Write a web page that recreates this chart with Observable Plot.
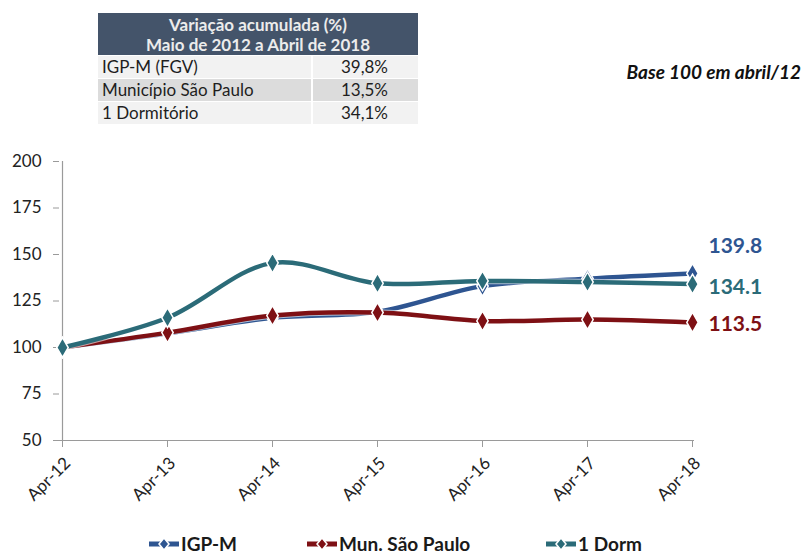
<!DOCTYPE html>
<html><head><meta charset="utf-8">
<script src="https://cdn.jsdelivr.net/npm/d3@7"></script>
<script src="https://cdn.jsdelivr.net/npm/@observablehq/plot@0.6"></script>
<style>
body{margin:0;background:#fff;font-family:Lato,"Open Sans",sans-serif;}
#wrap{position:relative;width:805px;height:558px;overflow:hidden;}
#chart{position:absolute;left:0;top:0;}
#chart svg{display:block;}
#tbl{position:absolute;left:98px;top:13px;border-collapse:collapse;font-size:17px;color:#1e1e1e;}
#tbl th{background:#44546A;color:#ececec;font-weight:bold;text-align:center;line-height:20px;padding:1px 0 0 0;height:41px;font-size:17px;}
#tbl td{height:22px;padding:0 4px;border-top:1px solid #fff;line-height:22px;}
#tbl td.v{text-align:right;padding-right:30px;border-left:2px solid #fff;}
#tbl tr.a td{background:#F2F2F2;}
#tbl tr.b td{background:#DCDCDC;}
#base{position:absolute;right:4px;top:60px;font-weight:bold;font-style:italic;font-size:19px;color:#111;}
#legend{position:absolute;left:0;top:533px;width:805px;height:24px;font-weight:bold;font-size:19px;line-height:22px;color:#1a1a1a;}
.li{position:absolute;top:0;display:flex;align-items:center;white-space:nowrap;}
</style></head><body><div id="wrap">
<table id="tbl"><thead><tr><th colspan="2" style="width:320px">Variação acumulada (%)<br>Maio de 2012 a Abril de 2018</th></tr></thead><tbody id="tb"></tbody></table>
<div id="base">Base 100 em abril/12</div>
<div id="chart"></div>
<div id="legend"></div>
</div>
<script>
// ---- data ----
const periods = ["Apr-12","Apr-13","Apr-14","Apr-15","Apr-16","Apr-17","Apr-18"];
const igpm  = [100, 107.5, 116.0, 119.2, 133.0, 137.0, 139.8];
const munSP = [100, 108.0, 117.2, 118.8, 114.3, 115.0, 113.5];
const dorm  = [100, 116.0, 145.5, 134.5, 135.8, 135.2, 134.1];
const seriesNames = ["IGP-M","Mun. São Paulo","1 Dorm"];
const seriesColors = ["#2E5591","#7E1014","#2B6B78"];
const endLabels = ["139.8","113.5","134.1"];
const yTicks = [50,75,100,125,150,175,200];
const tableNames = ["IGP-M (FGV)","Município São Paulo","1 Dormitório"];
const tableValues = ["39,8%","13,5%","34,1%"];

// ---- table ----
const tb = document.getElementById("tb");
tableNames.forEach((n,i)=>{
  const tr = document.createElement("tr");
  tr.className = i===1 ? "b" : "a";
  tr.innerHTML = `<td style="width:205px">${n}</td><td class="v">${tableValues[i]}</td>`;
  tb.appendChild(tr);
});

// ---- chart ----
const seriesValues = [igpm, munSP, dorm];
const rows = [];
seriesNames.forEach((s,i)=>periods.forEach((p,j)=>rows.push({series:s, period:p, value:seriesValues[i][j]})));
const last = seriesNames.map((s,i)=>({series:s, period:periods[periods.length-1], value:seriesValues[i][periods.length-1], label:endLabels[i]}));
const labelDy = {"IGP-M":-27, "Mun. São Paulo":2, "1 Dorm":3};

const marks = [
  Plot.ruleY([50], {stroke:"#9a9a9a", strokeWidth:1.2}),
  Plot.ruleX([periods[0]], {y1:50, y2:200, stroke:"#9a9a9a", strokeWidth:1.2}),
  Plot.axisY({ticks:yTicks, tickSize:6, tickPadding:12, stroke:"#9a9a9a", fill:"#222", fontSize:17}),
  Plot.axisX({tickSize:7, text:null, stroke:"#9a9a9a"}),
  Plot.axisX({tickSize:0, tickRotate:-45, tickPadding:20, dx:5, fill:"#222", fontSize:17})
];
seriesNames.forEach((s,i)=>{
  const d = rows.filter(r=>r.series===s);
  marks.push(Plot.line(d, {x:"period", y:"value", stroke:"#ffffff", strokeWidth:6.5, curve:"catmull-rom", strokeOpacity:0.6}));
  marks.push(Plot.line(d, {x:"period", y:"value", stroke:seriesColors[i], strokeWidth:4.5, curve:"catmull-rom"}));
  marks.push(Plot.dot(d, {x:"period", y:"value", symbol:"diamond", r:6, fill:seriesColors[i], stroke:"#fff", strokeWidth:1.5}));
});
last.forEach((d,i)=>{
  marks.push(Plot.text([d], {x:"period", y:"value", text:"label", dx:16, dy:labelDy[d.series], textAnchor:"start", fill:seriesColors[i], fontSize:21, fontWeight:"bold"}));
});

const chart = Plot.plot({
  width:805, height:558,
  marginTop:161, marginBottom:118, marginLeft:59, marginRight:111,
  x:{type:"point", domain:periods, padding:0, label:null},
  y:{domain:[50,200], label:null},
  style:{fontFamily:"Lato, 'Open Sans', sans-serif", background:"transparent", overflow:"visible"},
  marks
});
document.getElementById("chart").appendChild(chart);

// ---- legend ----
const legend = document.getElementById("legend");
const legendX = [147, 305, 544];
seriesNames.forEach((s,i)=>{
  const el = document.createElement("div");
  el.className = "li";
  el.style.left = legendX[i]+"px";
  el.innerHTML = `<svg width="34" height="22"><line x1="2" y1="11" x2="32" y2="11" stroke="${seriesColors[i]}" stroke-width="5"/><path d="M17 5 L22 11 L17 17 L12 11 Z" fill="${seriesColors[i]}" stroke="#fff" stroke-width="1.5"/></svg><span>${s}</span>`;
  legend.appendChild(el);
});
</script>
</body></html>
